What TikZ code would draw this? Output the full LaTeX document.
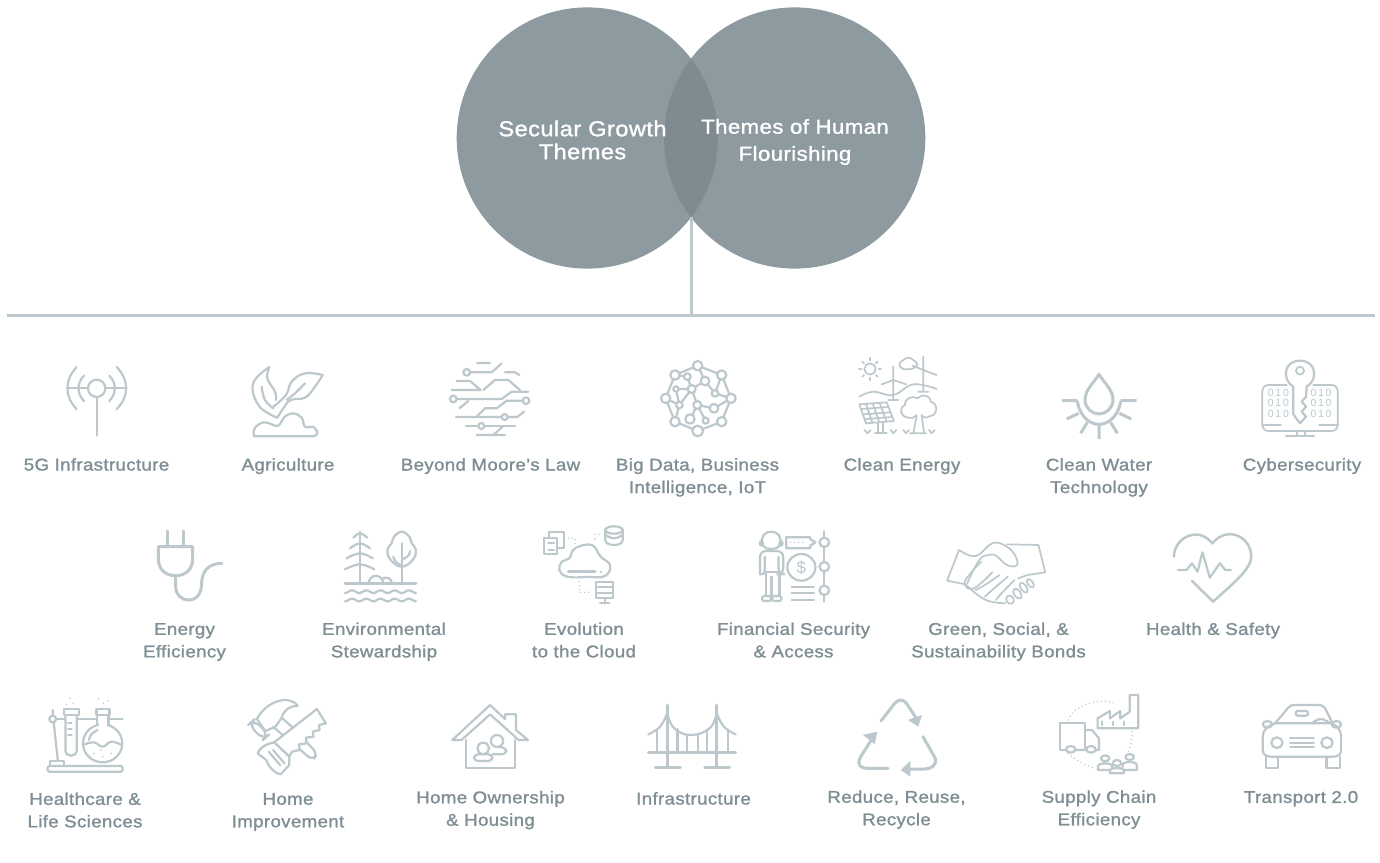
\documentclass[tikz,border=0pt]{standalone}
\usepackage{fontspec}
\setmainfont[FakeBold=1.3,FakeStretch=1.1,LetterSpace=2]{Liberation Sans}
\newfontfamily\icfont{Liberation Sans}
\definecolor{ink}{HTML}{BCC8CC}
\definecolor{lbl}{HTML}{7F8E94}
\definecolor{disc}{HTML}{8D9AA0}
\definecolor{lens}{HTML}{7E8C91}
\tikzset{
 ic/.style={draw=ink,line width=2.2pt,line cap=round,line join=round},
 thin ic/.style={ic,line width=1.7pt},
 bold ic/.style={ic,line width=3pt},
 dots ic/.style={draw=ink,line width=1.6pt,line cap=round,dash pattern=on 0pt off 4pt},
 rule/.style={draw=ink,line width=3pt},
 lab/.style={text=lbl,font=\fontsize{17}{22.5}\selectfont,align=center,inner sep=0pt},
 venn/.style={text=white,font=\fontsize{21.5}{23}\selectfont,align=center,inner sep=0pt},
 disc node/.style={circle,fill=disc,minimum size=261.2pt,inner sep=0pt},
 bits/.style={text=ink,font=\icfont\fontsize{10.5}{10.5}\selectfont,inner sep=0pt},
 za/.style={shift={(0,345)},x=.33333pt,y=-.33333pt},
 zb/.style={shift={(440,345)},x=.33333pt,y=-.33333pt},
 zc/.style={shift={(1000,345)},x=.33333pt,y=-.33333pt},
 zd/.style={shift={(130,515)},x=.33333pt,y=-.33333pt},
 ze/.style={shift={(700,515)},x=.36995pt,y=-.33333pt},
 zf/.style={shift={(20,685)},x=.34439pt,y=-.33333pt},
 zg/.style={shift={(620,685)},x=.47194pt,y=-.33333pt},
}
\newcommand\crv[2][ic]{\draw[#1] plot[smooth,tension=.7] coordinates {#2};}
\newcommand\blob[2][ic]{\draw[#1] plot[smooth cycle,tension=.7] coordinates {#2};}
\begin{document}
\begin{tikzpicture}[x=1pt,y=-1pt]
\useasboundingbox (0,0) rectangle (1380,862);
\fill[white] (0,0) rectangle (1380,862);
% Venn
\node[disc node] (left) at (587.3,138) {};
\node[disc node] (right) at (794.7,138) {};
\begin{scope}
\clip (587.3,138) circle [radius=130.6];
\fill[lens] (794.7,138) circle [radius=130.6];
\end{scope}
\node[venn] (secular) at (582.5,143.1) {\strut Secular Growth\\\strut Themes};
\node[venn,font=\fontsize{20.2}{27}\selectfont] (human) at (795,141.8) {\strut Themes of Human\\\strut Flourishing};
\coordinate (junction) at (691,217.4);
\coordinate (stem) at (691,315);
\coordinate (railL) at (7,315);
\coordinate (railR) at (1375,315);
\draw[rule] (junction) -- (stem);
\draw[rule] (railL) -- (railR);
% Labels
\node[lab] (l1) at (96.5,466) {\strut 5G Infrastructure};
\node[lab] (l2) at (288,466) {\strut Agriculture};
\node[lab] (l3) at (490.5,466) {\strut Beyond Moore’s Law};
\node[lab] (l4) at (697.5,477.3) {\strut Big Data, Business\\\strut Intelligence, IoT};
\node[lab] (l5) at (902,466) {\strut Clean Energy};
\node[lab] (l6) at (1099,477.3) {\strut Clean Water\\\strut Technology};
\node[lab] (l7) at (1302,466) {\strut Cybersecurity};
\node[lab] (l8) at (184.5,641.6) {\strut Energy\\\strut Efficiency};
\node[lab] (l9) at (384,641.6) {\strut Environmental\\\strut Stewardship};
\node[lab] (l10) at (584,641.6) {\strut Evolution\\\strut to the Cloud};
\node[lab] (l11) at (793.5,641.6) {\strut Financial Security\\\strut \& Access};
\node[lab] (l12) at (998.5,641.6) {\strut Green, Social, \&\\\strut Sustainability Bonds};
\node[lab] (l13) at (1213,630.4) {\strut Health \& Safety};
\node[lab] (l14) at (85,811.6) {\strut Healthcare \&\\\strut Life Sciences};
\node[lab] (l15) at (288,811.5) {\strut Home\\\strut Improvement};
\node[lab] (l16) at (490.5,810) {\strut Home Ownership\\\strut \& Housing};
\node[lab] (l17) at (693.5,800) {\strut Infrastructure};
\node[lab] (l18) at (896.5,809.5) {\strut Reduce, Reuse,\\\strut Recycle};
\node[lab] (l19) at (1099,809.5) {\strut Supply Chain\\\strut Efficiency};
\node[lab] (l20) at (1301,798.4) {\strut Transport 2.0};
% 5G + Agriculture
\begin{scope}[za]
\draw[ic] (290,130) circle [radius=26];
\draw[ic] (290,156) -- (290,272);
\draw[ic] (252,92) .. controls (230,115) and (230,145) .. (252,168);
\draw[ic] (230,66) .. controls (193,105) and (193,155) .. (230,192);
\draw[ic] (328,92) .. controls (350,115) and (350,145) .. (328,168);
\draw[ic] (350,66) .. controls (388,105) and (388,155) .. (350,192);
\draw[ic] (202,130) -- (264,130) (316,130) -- (380,130);
\draw[ic,rounded corners=4pt] (762,274) -- (952,274) -- (952,258);
\crv[ic]{(762,274) (764,250) (790,232) (815,238) (835,242) (855,215) (880,205) (905,218) (915,245) (940,246) (952,262)}
\crv[ic]{(808,66) (768,100) (758,135) (775,180) (805,205) (832,218)}
\crv[ic]{(808,66) (802,100) (825,140) (828,165)}
\crv[ic]{(785,125) (795,165) (820,190)}
\crv[ic]{(968,90) (915,85) (875,110) (858,150) (820,185)}
\crv[ic]{(968,90) (945,125) (915,158) (872,165) (850,190) (832,218)}
\crv[ic]{(915,115) (885,145) (860,165)}
\end{scope}
% Moore, big data, clean energy
\begin{scope}[zb]
\draw[ic] (80,82) circle [radius=10];
\draw[ic] (90,82) -- (155,82) -- (185,55) (112,54) -- (150,54);
\draw[ic] (195,82) -- (225,82) -- (238,90);
\draw[ic] (50,108) -- (90,108) -- (122,135) -- (35,135);
\draw[ic] (130,135) -- (165,105) -- (205,105) -- (240,135);
\draw[ic] (40,162) circle [radius=10];
\draw[ic] (50,162) -- (185,162) -- (215,140) -- (265,140);
\draw[ic] (58,190) -- (85,168);
\draw[ic] (258,167) circle [radius=10];
\draw[ic] (248,167) -- (200,167) -- (170,190) -- (135,190) -- (110,215);
\draw[ic] (48,216) -- (185,216) (205,216) -- (232,216) -- (252,200);
\draw[ic] (194,216) circle [radius=9];
\draw[ic] (78,243) -- (114,243) (135,243) -- (225,243);
\draw[ic] (124,243) circle [radius=9];
\draw[ic] (110,270) -- (195,270) (160,270) -- (188,245);
% big data
\draw[ic] (773,62) -- (845,90) -- (873,160) -- (845,230) -- (773,258) -- (705,230) -- (677,160) -- (705,90) -- cycle;
\draw[ic] (705,90) -- (742,95) -- (755,132) -- (708,132) -- (718,180) -- (705,230)
 (755,132) -- (718,180) -- (677,160) (772,180) -- (755,132) (772,180) -- (750,222) (772,180) -- (797,227)
 (772,180) -- (822,190) -- (873,160) (825,145) -- (795,108) -- (773,62) (825,145) -- (845,90) (825,145) -- (873,160) (795,108) -- (755,132);
\foreach \px/\py/\pr in {773/62/14,845/90/14,873/160/14,845/230/14,773/258/16,705/230/14,677/160/14,705/90/14,742/95/10,795/108/13,708/132/8,755/132/12,825/145/10,718/180/10,772/180/12,822/190/13,750/222/14,797/227/9}
 \draw[ic,fill=white] (\px,\py) circle [radius=\pr];
% clean energy
\draw[thin ic] (1290,72) circle [radius=17];
\draw[thin ic] (1290,38) -- (1290,46) (1290,98) -- (1290,106) (1257,72) -- (1264,72) (1316,72) -- (1323,72) (1267,50) -- (1272,55) (1313,50) -- (1308,55) (1267,95) -- (1272,90) (1313,95) -- (1308,90);
\blob[thin ic]{(1378,58) (1390,45) (1405,38) (1420,45) (1432,58) (1420,70) (1390,72)}
\draw[thin ic] (1360,65) -- (1360,165) (1345,165) -- (1375,165) (1360,105) -- (1325,118) (1360,105) -- (1398,118);
\draw[thin ic] (1450,35) -- (1450,140) (1435,140) -- (1465,140) (1450,75) -- (1418,62) (1450,75) -- (1490,90);
\crv[thin ic]{(1258,155) (1300,140) (1360,150) (1420,118) (1490,132)}
\draw[thin ic] (1258,178) -- (1340,172) -- (1362,228) -- (1278,235) -- cycle;
\draw[thin ic] (1264,192) -- (1345,186) (1271,208) -- (1351,202) (1277,222) -- (1357,216) (1278,176) -- (1297,233) (1298,175) -- (1318,232) (1319,174) -- (1340,230);
\draw[thin ic] (1315,235) -- (1315,265) (1330,232) -- (1330,265) (1305,265) -- (1340,265);
\draw[thin ic] (1405,218) .. controls (1380,215) and (1375,190) .. (1395,180) .. controls (1392,160) and (1420,150) .. (1432,160) .. controls (1445,145) and (1472,150) .. (1472,170) .. controls (1495,175) and (1495,212) .. (1468,214) .. controls (1460,220) and (1450,218) .. (1445,212);
\draw[thin ic] (1405,218) .. controls (1412,222) and (1422,218) .. (1428,212);
\draw[thin ic] (1430,210) -- (1420,265) (1445,210) -- (1452,265) (1410,265) -- (1458,265);
\draw[thin ic] (1273,255) -- (1283,265) -- (1292,255) (1352,255) -- (1360,265) -- (1369,255) (1390,255) -- (1398,265) -- (1407,255) (1467,255) -- (1475,265) -- (1484,255);
\end{scope}
% clean water, cyber
\begin{scope}[zc]
\draw[bold ic] (297,88) .. controls (280,115) and (255,135) .. (255,165) .. controls (255,188) and (275,207) .. (297,207) .. controls (319,207) and (339,188) .. (339,165) .. controls (339,135) and (314,115) .. (297,88) -- cycle;
\draw[bold ic] (232,170) .. controls (240,215) and (270,238) .. (297,238) .. controls (324,238) and (354,215) .. (362,170);
\draw[bold ic,line cap=butt] (186,167) -- (232,167) (362,167) -- (410,167) (200,222) -- (236,205) (394,222) -- (358,205) (242,265) -- (262,232) (352,265) -- (332,232) (297,282) -- (297,240);
\draw[ic] (880,125) .. controls (845,105) and (850,47) .. (900,47) .. controls (950,47) and (955,105) .. (920,125);
\draw[thin ic] (900,77) circle [radius=12];
\draw[ic] (880,125) -- (880,208) -- (900,235) -- (918,215) -- (905,200) -- (918,185) -- (905,170) -- (918,155) -- (920,125);
\draw[thin ic,rounded corners=6pt] (860,120) -- (787,120) -- (787,258) -- (1013,258) -- (1013,120) -- (940,120);
\draw[ic] (787,240) -- (842,240) (958,240) -- (1013,240);
\draw[ic] (890,258) -- (890,272) (915,258) -- (915,272) (858,272) -- (942,272);
\node[bits] (bitsa) at (835,143) {0\,1\,0};
\node[bits] (bitsb) at (835,175) {0\,1\,0};
\node[bits] (bitsc) at (835,208) {0\,1\,0};
\node[bits] (bitsd) at (963,143) {0\,1\,0};
\node[bits] (bitse) at (963,175) {0\,1\,0};
\node[bits] (bitsf) at (963,208) {0\,1\,0};
\end{scope}
% plug, environment, cloud
\begin{scope}[zd]
\draw[bold ic] (113,48) -- (113,95) (160,48) -- (160,95);
\draw[bold ic] (85,95) -- (188,95) -- (188,130) .. controls (188,165) and (165,182) .. (137,182) .. controls (108,182) and (85,165) .. (85,130) -- cycle;
\draw[bold ic] (137,182) -- (137,215) .. controls (137,240) and (155,255) .. (176,255) .. controls (200,255) and (215,235) .. (215,205) .. controls (215,170) and (235,145) .. (276,145);
\draw[ic] (690,50) -- (690,205);
\crv[ic]{(670,68) (690,55) (712,68)}
\crv[ic]{(660,100) (690,85) (720,100)}
\crv[ic]{(650,130) (690,115) (728,130)}
\crv[ic]{(645,163) (690,148) (733,163)}
\blob[ic]{(815,50) (838,65) (845,85) (858,105) (848,135) (815,155) (782,135) (772,105) (785,85) (792,65)}
\draw[ic] (815,85) -- (815,205);
\crv[ic]{(790,125) (797,140) (815,152)}
\crv[ic]{(840,108) (835,122) (815,135)}
\draw[ic] (716,205) .. controls (718,175) and (757,175) .. (760,205);
\draw[ic] (757,192) .. controls (768,182) and (785,190) .. (786,205);
\draw[bold ic] (645,205) -- (858,205);
\draw[ic] plot[domain=645:858,samples=60] (\x,{230+4*cos((\x-645)*8.45)});
\draw[ic] plot[domain=645:858,samples=60] (\x,{255+4*cos((\x-645)*8.45)});
\draw[ic] (1243,68) rectangle (1282,118);
\draw[ic] (1258,68) -- (1258,52) -- (1303,52) -- (1303,100) -- (1282,100);
\draw[ic] (1255,85) -- (1272,85) (1255,105) -- (1272,105);
\draw[dots ic] (1315,70) -- (1335,70) -- (1335,88) (1395,58) -- (1415,58) (1395,72) -- (1396,72);
\draw[ic] (1426,45) -- (1426,75) .. controls (1426,95) and (1478,95) .. (1478,75) -- (1478,45);
\draw[ic] (1452,45) ellipse [x radius=26,y radius=11];
\crv[ic]{(1426,60) (1452,70) (1478,60)}
\blob[ic]{(1312,185) (1288,165) (1296,140) (1318,130) (1335,100) (1385,90) (1412,125) (1440,150) (1425,183) (1370,186)}
\draw[bold ic] (1315,170) -- (1395,170);
\draw[ic] (1412,170) -- (1413,170);
\draw[dots ic] (1348,200) -- (1348,232) -- (1380,232);
\draw[ic] (1398,200) rectangle (1450,250);
\draw[ic] (1398,217) -- (1450,217) (1398,233) -- (1450,233) (1424,250) -- (1424,265) (1410,265) -- (1438,265);
\end{scope}
% financial, handshake, heart
\begin{scope}[ze]
\blob[ic]{(192,50) (213,60) (217,85) (205,100) (180,100) (168,85) (172,60)}
\draw[ic] (166,85) ellipse [x radius=4,y radius=7] (219,85) ellipse [x radius=4,y radius=7];
\draw[ic,rounded corners=6pt] (162,178) -- (162,108) -- (225,108) -- (225,178) -- (212,178) -- (212,125);
\draw[ic,rounded corners=3pt] (162,178) -- (175,178) -- (175,125);
\draw[ic] (178,172) -- (210,172) (178,172) -- (178,240) (215,172) -- (215,240) (193,185) -- (193,240);
\draw[ic,rounded corners=2pt] (168,243) rectangle (192,258);
\draw[ic,rounded corners=2pt] (195,243) rectangle (220,258);
\draw[ic] (298,67) -- (233,67) -- (233,100) -- (298,100) -- (298,92) -- (312,82) -- (298,72) -- cycle;
\draw[dots ic] (245,82) -- (288,82);
\draw[ic] (274,157) ellipse [x radius=38,y radius=40];
\node[text=ink,font=\icfont\fontsize{17}{17}\selectfont,inner sep=0pt] (dollar) at (274,157) {\$};
\draw[ic] (336,50) -- (336,260);
\foreach \py in {82,155,226} \draw[ic,fill=white] (336,\py) circle [x radius=13,y radius=14];
\draw[ic] (248,215) -- (308,215) (248,235) -- (308,235) (248,256) -- (308,256);
% handshake
\draw[thin ic] (718,208) -- (668,197) -- (700,105);
\crv[thin ic]{(700,105) (745,123) (790,85) (825,92) (850,118) (857,150) (830,150) (800,122) (780,120) (755,135) (722,205)}
\draw[thin ic] (830,88) -- (915,90) -- (933,172) -- (885,180) -- (860,190);
\crv[thin ic]{(718,208) (745,235) (780,258) (825,265)}
\crv[thin ic]{(760,140) (735,170) (715,205) (740,220) (790,172)}
\crv[thin ic]{(745,225) (770,210) (810,180)}
\crv[thin ic]{(770,245) (795,220) (832,185)}
\crv[thin ic]{(800,255) (815,235) (850,195)}
\draw[thin ic] (893,205) ellipse [x radius=7,y radius=15,rotate=35];
\draw[thin ic] (875,218) ellipse [x radius=8,y radius=17,rotate=35];
\draw[thin ic] (858,236) ellipse [x radius=9,y radius=17,rotate=35];
\draw[thin ic] (838,254) ellipse [x radius=10,y radius=13,rotate=35];
% heart
\draw[ic,line width=2.5pt] (1281,125) .. controls (1281,70) and (1345,30) .. (1385,85) .. controls (1425,30) and (1490,65) .. (1490,125) .. controls (1490,165) and (1430,215) .. (1387,260) -- (1330,198);
\draw[ic] (1292,165) -- (1315,165) -- (1330,145) -- (1345,170) -- (1358,112) -- (1378,188) -- (1405,145) -- (1420,165) -- (1435,165);
\end{scope}
% health, home improvement, home
\begin{scope}[zf]
\draw[ic,rounded corners=2pt] (80,243) rectangle (298,260);
\draw[ic] (88,243) -- (88,228) -- (128,228) -- (128,243);
\draw[ic] (95,75) -- (95,92) (98,113) -- (110,228);
\draw[ic] (95,102) circle [radius=10];
\draw[ic] (105,102) -- (130,102) (165,102) -- (222,102) (258,102) -- (298,102);
\draw[ic] (132,90) -- (132,195) .. controls (132,218) and (165,218) .. (165,195) -- (165,90);
\draw[ic] (128,72) rectangle (172,90) (222,72) rectangle (260,90);
\draw[ic] (140,115) -- (150,115) (140,132) -- (150,132) (140,150) -- (150,150);
\draw[ic] (240,175) circle [radius=57];
\fill[white] (228,110) rectangle (254,130);
\draw[ic] (224,90) -- (224,120) (257,90) -- (257,120);
\crv[ic]{(188,178) (215,172) (240,185) (265,170) (295,180)}
\crv[ic]{(200,165) (207,148) (225,135)}
\foreach \px/\py in {145/40,135/58,155/55,228/42,242/55,255/47,215/205,240/215,265/205,235/195}
 \fill[ink] (\px,\py) circle [radius=2.5];
% hammer + saw
\draw[ic,rounded corners=8pt] (664,118) -- (680,104) -- (722,150) -- (706,164) -- cycle;
\draw[ic,fill=white] (688,102) .. controls (700,75) and (735,45) .. (770,45) .. controls (785,45) and (800,52) .. (806,62) .. controls (785,62) and (765,75) .. (760,98) -- (742,125) -- (712,138) -- cycle;
\draw[ic] (760,98) -- (792,128) (735,125) -- (768,155);
\draw[ic,rounded corners=6pt] (792,128) -- (864,206) -- (850,226) -- (768,155);
\draw[ic,fill=white] (862,72) -- (888,115) -- (868,120) -- (870,135) -- (850,140) -- (852,155) -- (830,158) -- (832,175) -- (810,178) -- (812,195) -- (790,200) -- (782,215) -- (738,172) -- cycle;
\draw[ic,fill=white] (738,172) .. controls (710,178) and (695,190) .. (690,205) -- (715,225) .. controls (722,245) and (735,262) .. (757,268) -- (782,240) -- (782,215) -- cycle;
\draw[ic] (722,200) -- (755,240) (735,195) -- (768,235);
% house
\draw[ic] (1255,165) -- (1365,60) -- (1408,102) -- (1408,88) -- (1440,88) -- (1440,135) -- (1475,165) -- (1448,165) -- (1365,88) -- (1282,165) -- cycle;
\draw[ic] (1295,165) -- (1295,250) -- (1437,250) -- (1437,165);
\draw[ic] (1385,168) circle [radius=18] (1345,190) circle [radius=17];
\draw[ic,rounded corners=4pt] (1372,208) -- (1412,208) -- (1412,188) -- (1390,186);
\draw[ic,rounded corners=4pt] (1318,228) -- (1372,228) -- (1372,208) -- (1318,208) -- cycle;
\end{scope}
% bridge, recycle, supply, car
\begin{scope}[zg]
\draw[bold ic] (100,60) -- (100,248) (205,60) -- (205,248) (75,248) -- (128,248) (180,248) -- (232,248) (60,202) -- (245,202);
\crv[ic]{(60,148) (85,125) (100,85)}
\crv[ic]{(100,85) (115,130) (150,150) (190,130) (205,85)}
\crv[ic]{(205,85) (220,125) (245,148)}
\draw[ic] (78,133) -- (78,202) (122,133) -- (122,202) (142,150) -- (142,202) (165,150) -- (165,202) (185,133) -- (185,202) (228,133) -- (228,202);
% recycle
\draw[bold ic] (553,108) -- (582,55) .. controls (590,42) and (600,42) .. (607,55) -- (628,100);
\fill[ink] (610,105) -- (640,90) -- (632,125) -- cycle;
\draw[bold ic] (537,155) -- (510,215) .. controls (500,240) and (510,250) .. (525,250) -- (568,250);
\fill[ink] (515,150) -- (545,140) -- (540,178) -- cycle;
\draw[bold ic] (642,155) -- (668,220) .. controls (672,240) and (660,252) .. (645,252) -- (612,252);
\fill[ink] (615,228) -- (595,255) -- (615,275) -- cycle;
% supply
\draw[dots ic] (950,105) .. controls (960,65) and (1010,35) .. (1050,55);
\draw[dots ic] (1085,140) .. controls (1085,165) and (1082,185) .. (1075,205);
\draw[dots ic] (950,205) .. controls (965,225) and (985,240) .. (1003,248);
\draw[ic] (985,195) -- (985,115) -- (932,115) -- (932,195) -- (945,195);
\draw[ic] (985,135) -- (1000,135) -- (1015,160) -- (1015,195) -- (1008,195) (965,195) -- (988,195);
\draw[ic] (955,193) circle [radius=10] (998,193) circle [radius=10];
\draw[ic] (1012,130) -- (1012,100) -- (1038,78) -- (1038,100) -- (1060,78) -- (1060,100) -- (1080,80) -- (1080,30) -- (1098,30) -- (1098,130) -- cycle;
\draw[ic] (1022,110) -- (1022,120) (1045,110) -- (1045,120) (1068,110) -- (1068,120);
\foreach \px/\py/\pb in {1028/220/255,1080/216/255,1053/234/265}{
 \draw[ic,fill=white] (\px-15,\pb) -- (\px-15,\py+24) .. controls (\px-15,\py+12) and (\px+15,\py+12) .. (\px+15,\py+24) -- (\px+15,\pb) -- cycle;
 \draw[ic,fill=white] (\px,\py) circle [radius=9];
}
% car
\draw[ic] (1388,115) -- (1416,68) .. controls (1420,60) and (1425,60) .. (1430,60) -- (1480,60) .. controls (1487,60) and (1490,62) .. (1494,70) -- (1510,115);
\draw[ic] (1388,115) .. controls (1370,125) and (1362,135) .. (1362,155) -- (1362,195) .. controls (1362,210) and (1370,215) .. (1380,215) -- (1510,215) .. controls (1520,215) and (1528,210) .. (1528,195) -- (1528,155) .. controls (1528,135) and (1520,125) .. (1510,115) -- cycle;
\draw[ic] (1372,118) ellipse [x radius=10,y radius=10] (1518,118) ellipse [x radius=10,y radius=10];
\draw[ic] (1392,173) ellipse [x radius=12,y radius=16] (1498,173) ellipse [x radius=12,y radius=16];
\draw[ic] (1420,160) -- (1470,160) (1420,173) -- (1470,173) (1420,187) -- (1470,187);
\draw[ic] (1368,215) -- (1368,250) -- (1395,250) -- (1395,215) (1497,215) -- (1497,250) -- (1525,250) -- (1525,215);
\draw[ic,rounded corners=2pt] (1432,78) rectangle (1458,92);
\crv[ic]{(1465,115) (1485,102) (1505,115)}
\end{scope}
\end{tikzpicture}
\end{document}
